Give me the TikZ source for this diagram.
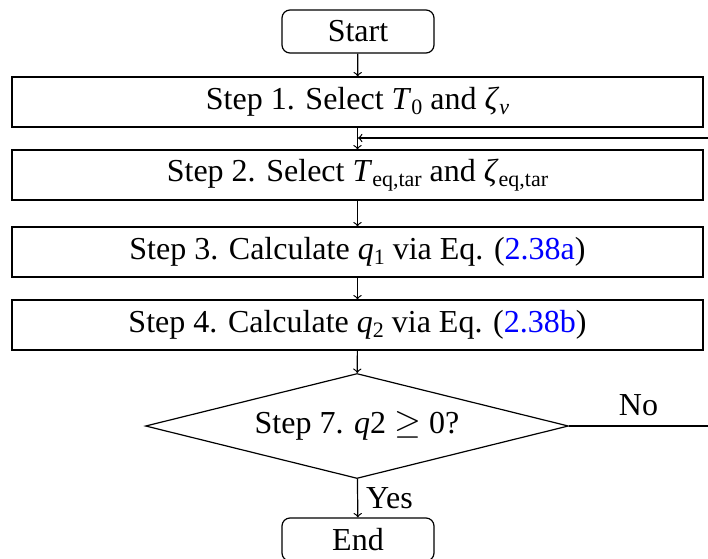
\documentclass[tikz,border=0pt]{standalone}
\usepackage{fontspec}
\setmainfont{Liberation Serif}
\usetikzlibrary{shapes.geometric}
\definecolor{refblue}{RGB}{0,0,255}
\newcommand\lsub[1]{\raisebox{-0.35ex}{\fontsize{11}{13}\selectfont #1}}
\begin{document}
\begin{tikzpicture}[x=0.5pt,y=-0.5pt,
  every node/.style={font=\fontsize{16}{19}\selectfont},
  line width=0.6pt,
  term/.style={draw,rounded corners=4pt,minimum width=76pt,minimum height=21.5pt,inner sep=0pt},
  stepbox/.style={draw,minimum width=345.5pt,minimum height=25pt,inner sep=0pt},
  decision/.style={draw,diamond,aspect=4,minimum width=211.5pt,minimum height=52.5pt,inner sep=0pt},
  flow/.style={->}]
\useasboundingbox (0,0) rectangle (708,558);
\clip (0,0) rectangle (708,558);
\node[term] (start) at (358,31.5) {Start};
\node[stepbox] (s1) at (357.5,102) {Step 1. Select \textit{T}\lsub{0} and \textit{ζ}\lsub{\textit{v}}};
\node[stepbox] (s2) at (357.5,175) {Step 2. Select \textit{T}\lsub{eq,tar} and \textit{ζ}\lsub{eq,tar}};
\node[stepbox] (s3) at (357.5,252) {Step 3. Calculate \textit{q}\lsub{1} via Eq. (\textcolor{refblue}{2.38a})};
\node[stepbox] (s4) at (357.5,325) {Step 4. Calculate \textit{q}\lsub{2} via Eq. (\textcolor{refblue}{2.38b})};
\node[decision] (d) at (357,426) {Step 7. \textit{q}2 $\geq$ 0?};
\node[term] (end) at (358,539.5) {End};
\coordinate (fbR) at (708,138);
\coordinate (fbJ) at (358,138);
\coordinate (noR) at (708,426);
\draw[flow] (start) -- (s1);
\draw[flow] (s1) -- (s2);
\draw[flow] (fbR) -- (fbJ);
\draw[flow] (s2) -- (s3);
\draw[flow] (s3) -- (s4);
\draw[flow] (s4) -- (d);
\draw[flow] (d) -- node[right,inner sep=4pt] {Yes} (end);
\draw (d.east) -- node[above,inner sep=5pt] {No} (noR);
\end{tikzpicture}
\end{document}
